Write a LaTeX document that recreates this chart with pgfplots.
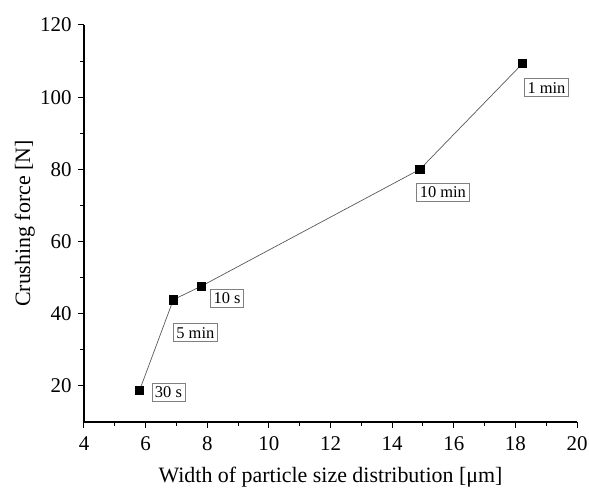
\documentclass[border=0pt]{standalone}
\usepackage{pgfplots}
\pgfplotsset{compat=1.18}
\usepackage{pgfplotstable}
\usepackage{fontspec}
\setmainfont{Liberation Serif}
\pgfplotstableread{
x y dx dy label
5.8 18.7 29 -2 {30 s}
6.9 43.9 22 -33 {5 min}
7.8 47.6 26 -12 {10 s}
14.9 80.0 23 -23 {10 min}
18.23 109.3 24 -24 {1 min}
}\datatable
\begin{document}
\begin{tikzpicture}
\begin{axis}[
 scale only axis, width=493bp, height=397bp,
 xmin=4, xmax=20, ymin=10, ymax=120,
 xtick={4,6,...,20}, ytick={20,40,...,120},
 minor x tick num=1, minor y tick num=1,
 axis lines=left, axis line style={-, line width=1.3bp},
 xtick align=outside, ytick align=outside,
 major tick length=6bp, minor tick length=3.5bp,
 every tick/.style={black, line width=1bp},
 tick label style={font=\fontsize{21}{25}\selectfont},
 xticklabel style={yshift=-5bp},
 yticklabel style={xshift=-3bp},
 /pgf/number format/assume math mode=true,
 xlabel={Width of particle size distribution [μm]},
 ylabel={Crushing force [N]},
 label style={font=\fontsize{22}{26}\selectfont},
 xlabel style={at={(axis description cs:0.5,-0.139)}, anchor=center},
 ylabel style={at={(axis description cs:-0.12,0.5)}, anchor=center},
 clip=false,
]
\addplot[gray!70!black, line width=0.7bp, mark=square*, mark size=4.2bp,
  mark options={solid, draw=black, fill=black},
  point meta=explicit symbolic, nodes near coords,
  visualization depends on={\thisrow{dx}\as\dx},
  visualization depends on={\thisrow{dy}\as\dy},
  nodes near coords style={anchor=center, xshift=\dx bp, yshift=\dy bp,
    draw=gray, fill=white, inner xsep=3bp, inner ysep=3.5bp, text=black, line width=0.8bp,
    font=\fontsize{16.5}{19}\selectfont}]
  table[x=x, y=y, meta=label]{\datatable};
\end{axis}
\pgfresetboundingbox
\useasboundingbox ([shift={(-84bp,-71bp)}]current axis.south west) rectangle ([shift={(12bp,25bp)}]current axis.north east);
\end{tikzpicture}
\end{document}
